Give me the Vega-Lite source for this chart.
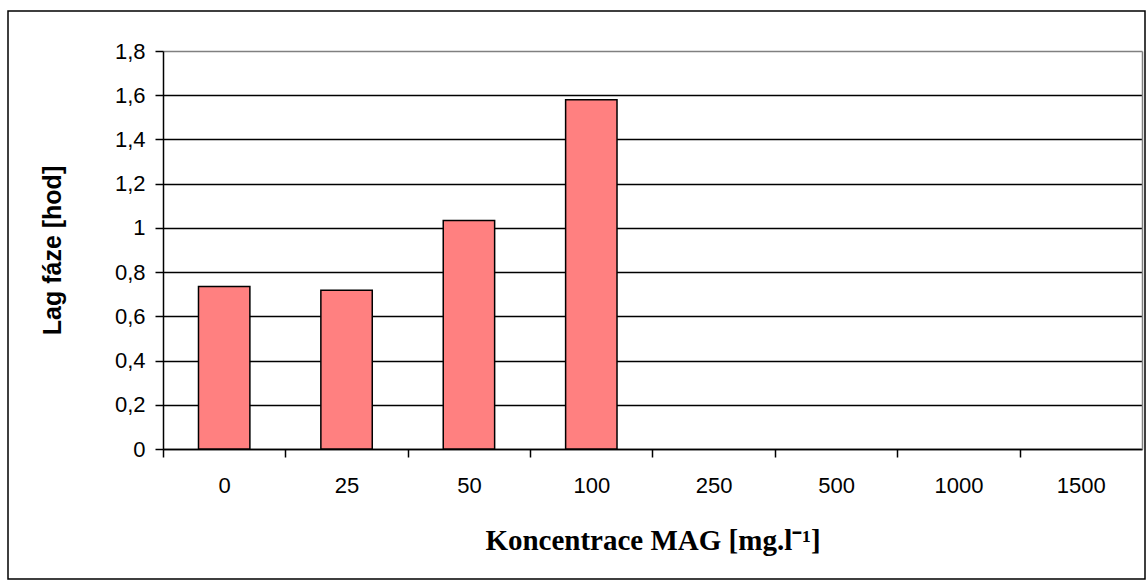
{
  "$schema": "https://vega.github.io/schema/vega-lite/v6.json",
  "width": 1137,
  "height": 568,
  "autosize": {"type": "none"},
  "padding": {"left": 8, "top": 11, "right": 2, "bottom": 3},
  "background": "white",
  "config": {
    "view": {"stroke": "black", "strokeWidth": 1.5},
    "font": "Liberation Sans"
  },
  "data": {
    "values": [
      {"konc": "0", "lag": 0.735},
      {"konc": "25", "lag": 0.718},
      {"konc": "50", "lag": 1.033},
      {"konc": "100", "lag": 1.58},
      {"konc": "250", "lag": null},
      {"konc": "500", "lag": null},
      {"konc": "1000", "lag": null},
      {"konc": "1500", "lag": null}
    ]
  },
  "encoding": {
    "x": {
      "field": "konc",
      "type": "ordinal",
      "sort": null,
      "scale": {"domain": ["0", "25", "50", "100", "250", "500", "1000", "1500"], "range": [155, 1134], "paddingInner": 0.58, "paddingOuter": 0.29},
      "axis": {
        "orient": "bottom",
        "offset": -130,
        "title": "Koncentrace MAG [mg.l⁻¹]",
        "titleFont": "Liberation Serif",
        "titleFontSize": 29,
        "titleFontWeight": "bold",
        "titleColor": "black",
        "titlePadding": 30,
        "labelAngle": 0,
        "labelFontSize": 22,
        "labelColor": "black",
        "labelPadding": 18,
        "tickOffset": -61.19,
        "labelOffset": 61.19,
        "tickColor": "black",
        "tickSize": 8,
        "tickWidth": 1.5,
        "domainColor": "black",
        "domainWidth": 1.5,
        "grid": false
      }
    }
  },
  "layer": [
    {
      "mark": {"type": "bar", "fill": "#FF8080", "stroke": "black", "strokeWidth": 1.5},
      "encoding": {
        "y": {
          "field": "lag",
          "type": "quantitative",
          "scale": {"domain": [0, 1.8], "range": [438, 40], "nice": false},
          "axis": {
            "orient": "left",
            "offset": -155,
            "title": "Lag fáze [hod]",
            "titleFontSize": 25,
            "titleFontWeight": "bold",
            "titleColor": "black",
            "titlePadding": 49,
            "values": [0, 0.2, 0.4, 0.6, 0.8, 1, 1.2, 1.4, 1.6, 1.8],
            "labelExpr": "replace(format(datum.value, '.1~f'), '.', ',')",
            "labelFontSize": 22,
            "labelColor": "black",
            "labelPadding": 10,
            "tickColor": "black",
            "tickSize": 8,
            "tickWidth": 1.5,
            "domainColor": "black",
            "domainWidth": 1.5,
            "grid": true,
            "gridColor": {"condition": {"test": "datum.value >= 1.8", "value": "#808080"}, "value": "black"},
            "gridWidth": 1.5,
            "gridOpacity": 1
          }
        }
      }
    },
    {
      "mark": {"type": "bar", "opacity": 0},
      "encoding": {
        "y": {
          "field": "lag",
          "type": "quantitative",
          "axis": {
            "orient": "right",
            "offset": -3,
            "title": null,
            "labels": false,
            "ticks": false,
            "grid": false,
            "domainColor": "#808080",
            "domainWidth": 1.5
          }
        }
      }
    }
  ],
  "resolve": {"axis": {"y": "independent"}}
}
